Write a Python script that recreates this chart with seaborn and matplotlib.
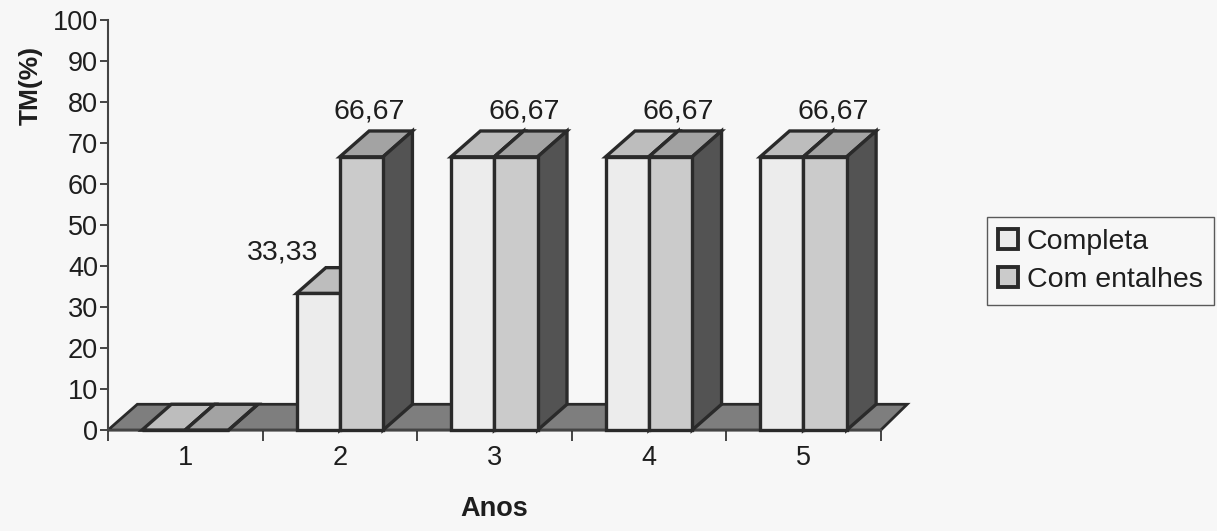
import numpy as np
import pandas as pd
import matplotlib
matplotlib.use("Agg")
import matplotlib.pyplot as plt
import seaborn as sns
from matplotlib.patches import Polygon, Patch

# chart data
anos = ["1", "2", "3", "4", "5"]
completa = [0, 33.33, 66.67, 66.67, 66.67]
com_entalhes = [0, 66.67, 66.67, 66.67, 66.67]
series = ["Completa", "Com entalhes"]
y_ticks = list(range(0, 101, 10))

df = pd.DataFrame({
    "Ano": anos * 2,
    "TM": completa + com_entalhes,
    "Tipo": [series[0]] * len(anos) + [series[1]] * len(anos),
})

# look
front = {"Completa": "#ececec", "Com entalhes": "#cbcbcb"}
top = {"Completa": "#bdbdbd", "Com entalhes": "#a3a3a3"}
side = "#535353"
floor = "#7e7e7e"
edge = "#2a2a2a"
bg = "#f7f7f7"
ink = "#1e1e1e"
dx, dy = 0.19, 6.3  # fake 3D depth (x in categories, y in %)

sns.set_style("ticks")
plt.rcParams["font.family"] = ["Liberation Sans", "DejaVu Sans"]

fig = plt.figure(figsize=(12.17, 5.31), dpi=100, facecolor=bg)
ax = fig.add_axes([0.0887, 0.190, 0.635, 0.772])
ax.set_facecolor("none")

sns.barplot(data=df, x="Ano", y="TM", hue="Tipo", order=anos, hue_order=series,
            palette=front, width=0.56, edgecolor=edge, linewidth=2.4,
            legend=False, ax=ax)

ax.set_xlim(-0.5, len(anos) - 0.5)
ax.set_ylim(0, 100)

# floor of the 3D chart
x0, x1 = ax.get_xlim()
ax.add_patch(Polygon([(x0, 0), (x1, 0), (x1 + dx * 0.9, dy), (x0 + dx, dy)],
                     closed=True, facecolor=floor, edgecolor=edge, lw=2,
                     zorder=2, clip_on=False))

# top and side faces for each bar, built from the bars seaborn drew
heights = dict(zip(series, [completa, com_entalhes]))
for k, (cont, level) in enumerate(zip(ax.containers, series)):
    z = 3 + k
    for i, bar in enumerate(cont):
        bx, bw, bh = bar.get_x(), bar.get_width(), bar.get_height()
        bar.set_zorder(z + 0.2)
        bar.set_clip_on(False)
        ax.add_patch(Polygon([(bx, bh), (bx + bw, bh), (bx + bw + dx, bh + dy), (bx + dx, bh + dy)],
                             closed=True, facecolor=top[level], edgecolor=edge, lw=2.4,
                             zorder=z + 0.1, clip_on=False))
        ax.add_patch(Polygon([(bx + bw, 0), (bx + bw + dx, dy), (bx + bw + dx, bh + dy), (bx + bw, bh)],
                             closed=True, facecolor=side, edgecolor=edge, lw=2.4,
                             zorder=z + 0.1, clip_on=False))
        txt = f"{bh:.2f}".replace(".", ",")
        if level == "Com entalhes" and bh > 0:
            ax.text(bx + bw / 2 + 0.05, bh + 11, txt, ha="center", va="center",
                    fontsize=20.5, color=ink, zorder=10)
        elif level == "Completa" and bh > 0 and bh != heights["Com entalhes"][i]:
            ax.text(bx + bw / 2, bh + 10, txt, ha="right", va="center",
                    fontsize=20.5, color=ink, zorder=10)

# axes
for s in ["top", "right"]:
    ax.spines[s].set_visible(False)
for s in ["left", "bottom"]:
    ax.spines[s].set_color("#444")
    ax.spines[s].set_linewidth(1.5)
    ax.spines[s].set_zorder(2.5)

ax.set_yticks(y_ticks)
ax.tick_params(axis="y", direction="out", length=6, width=1.4, color="#444",
               labelsize=19.5, pad=1, labelcolor=ink)
ax.set_xticks(np.arange(-0.5, len(anos)), minor=True)
ax.tick_params(axis="x", which="major", length=0, pad=11, labelsize=19.5, labelcolor=ink)
ax.tick_params(axis="x", which="minor", length=8, width=1.4, color="#444", direction="out")

ax.set_xlabel("Anos", fontweight="bold", fontsize=19.5, labelpad=18, color=ink)
ax.set_ylabel("TM(%)", fontweight="bold", fontsize=19, color=ink)
ax.yaxis.set_label_coords(-0.085, 0.84)

handles = [Patch(facecolor=front[s], edgecolor=edge, linewidth=2.8, label=s) for s in series]
leg = fig.legend(handles=handles, loc="upper left", bbox_to_anchor=(0.811, 0.591),
                 fontsize=20.5, frameon=True, fancybox=False, borderpad=0.4,
                 handlelength=0.7, handleheight=0.7, handletextpad=0.3,
                 labelspacing=0.45, borderaxespad=0)
leg.get_frame().set_edgecolor("#333")
leg.get_frame().set_linewidth(1.0)
leg.get_frame().set_facecolor(bg)
for t in leg.get_texts():
    t.set_color(ink)

fig.savefig("out.png", dpi=100, facecolor=bg)
